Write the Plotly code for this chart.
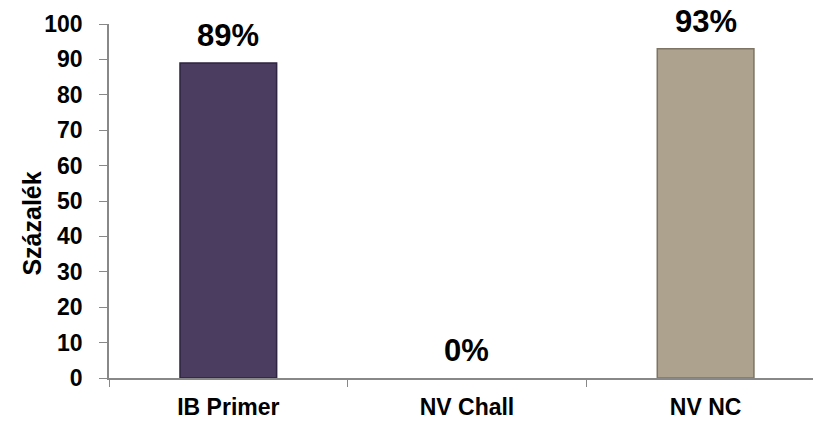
import plotly.graph_objects as go

categories = ["IB Primer", "NV Chall", "NV NC"]
values = [89, 0, 93]
labels = ["89%", "0%", "93%"]
bar_colors = ["#4A3D5F", "#4A3D5F", "#ADA28E"]
edge_colors = ["#2E2540", "#2E2540", "#7D7464"]
y_ticks = [0, 10, 20, 30, 40, 50, 60, 70, 80, 90, 100]
y_title = "Százalék"

font_family = "Liberation Sans, Arial, sans-serif"

fig = go.Figure()
fig.add_trace(go.Bar(
    x=categories,
    y=values,
    width=0.405,
    marker=dict(
        color=bar_colors,
        line=dict(color=edge_colors, width=[1.5 if v > 0 else 0 for v in values]),
    ),
    hoverinfo="skip",
))

for cat, val, lab in zip(categories, values, labels):
    fig.add_annotation(
        x=cat, y=val, text=f"<b>{lab}</b>", showarrow=False,
        yanchor="bottom", yshift=8,
        font=dict(family=font_family, size=31, color="#000000"),
    )

# vertical axis title, placed slightly below the plot's mid-height
fig.add_annotation(
    xref="paper", yref="paper", x=-0.11, y=0.435,
    text=f"<b>{y_title}</b>", showarrow=False, textangle=-90,
    xanchor="center", yanchor="middle",
    font=dict(family=font_family, size=25, color="#000000"),
)

fig.update_layout(
    width=813, height=421,
    margin=dict(l=109, r=0, t=24, b=43),
    paper_bgcolor="white", plot_bgcolor="white",
    showlegend=False,
    font=dict(family=font_family, color="#000000"),
)
fig.update_xaxes(
    range=[-0.5, 2.45],
    showline=True, linecolor="#888888", linewidth=1.5,
    ticks="outside", tickson="boundaries", ticklen=7, tickcolor="#888888",
    tickfont=dict(family=font_family, size=23, color="#000000", weight="bold"),
    ticklabelstandoff=8,
    showgrid=False,
)
fig.update_yaxes(
    range=[0, 100], tickvals=y_ticks,
    showline=True, linecolor="#888888", linewidth=1.5,
    ticks="outside", ticklen=8, tickcolor="#888888",
    tickfont=dict(family=font_family, size=23, color="#000000", weight="bold"),
    ticklabelstandoff=12,
    showgrid=False, zeroline=False,
)

fig.write_html("out.html")
